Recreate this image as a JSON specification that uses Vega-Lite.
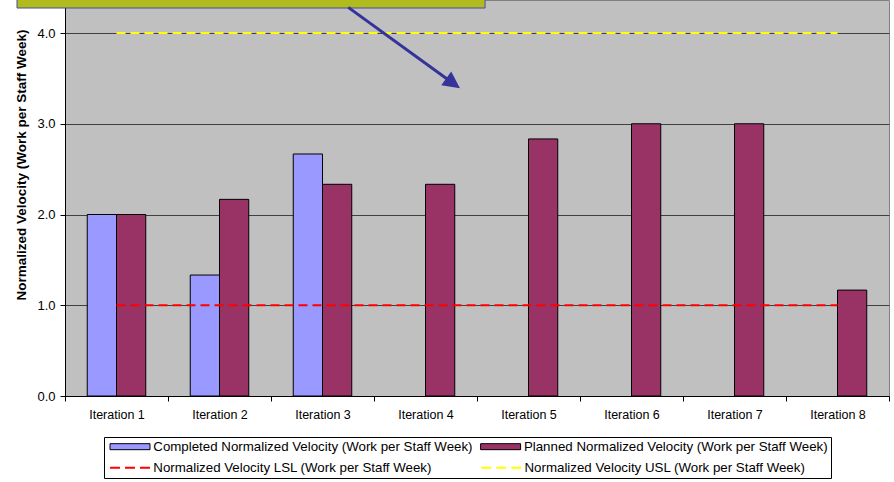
{
  "$schema": "https://vega.github.io/schema/vega-lite/v6.json",
  "width": 824,
  "height": 396,
  "autosize": {"type": "none"},
  "padding": {"left": 65, "top": 0, "right": 5, "bottom": 86},
  "background": "white",
  "config": {
    "view": {"fill": "#C0C0C0", "stroke": "#808080", "strokeWidth": 1},
    "font": "Liberation Sans"
  },
  "datasets": {
    "bars": [
      {"iteration": "Iteration 1", "series": "Completed Normalized Velocity (Work per Staff Week)", "value": 2.0},
      {"iteration": "Iteration 1", "series": "Planned Normalized Velocity (Work per Staff Week)", "value": 2.0},
      {"iteration": "Iteration 2", "series": "Completed Normalized Velocity (Work per Staff Week)", "value": 1.333},
      {"iteration": "Iteration 2", "series": "Planned Normalized Velocity (Work per Staff Week)", "value": 2.167},
      {"iteration": "Iteration 3", "series": "Completed Normalized Velocity (Work per Staff Week)", "value": 2.667},
      {"iteration": "Iteration 3", "series": "Planned Normalized Velocity (Work per Staff Week)", "value": 2.333},
      {"iteration": "Iteration 4", "series": "Planned Normalized Velocity (Work per Staff Week)", "value": 2.333},
      {"iteration": "Iteration 5", "series": "Planned Normalized Velocity (Work per Staff Week)", "value": 2.833},
      {"iteration": "Iteration 6", "series": "Planned Normalized Velocity (Work per Staff Week)", "value": 3.0},
      {"iteration": "Iteration 7", "series": "Planned Normalized Velocity (Work per Staff Week)", "value": 3.0},
      {"iteration": "Iteration 8", "series": "Planned Normalized Velocity (Work per Staff Week)", "value": 1.167}
    ],
    "limits": [
      {"iteration": "Iteration 1", "series": "Normalized Velocity LSL (Work per Staff Week)", "value": 1.0},
      {"iteration": "Iteration 2", "series": "Normalized Velocity LSL (Work per Staff Week)", "value": 1.0},
      {"iteration": "Iteration 3", "series": "Normalized Velocity LSL (Work per Staff Week)", "value": 1.0},
      {"iteration": "Iteration 4", "series": "Normalized Velocity LSL (Work per Staff Week)", "value": 1.0},
      {"iteration": "Iteration 5", "series": "Normalized Velocity LSL (Work per Staff Week)", "value": 1.0},
      {"iteration": "Iteration 6", "series": "Normalized Velocity LSL (Work per Staff Week)", "value": 1.0},
      {"iteration": "Iteration 7", "series": "Normalized Velocity LSL (Work per Staff Week)", "value": 1.0},
      {"iteration": "Iteration 8", "series": "Normalized Velocity LSL (Work per Staff Week)", "value": 1.0},
      {"iteration": "Iteration 1", "series": "Normalized Velocity USL (Work per Staff Week)", "value": 4.0},
      {"iteration": "Iteration 2", "series": "Normalized Velocity USL (Work per Staff Week)", "value": 4.0},
      {"iteration": "Iteration 3", "series": "Normalized Velocity USL (Work per Staff Week)", "value": 4.0},
      {"iteration": "Iteration 4", "series": "Normalized Velocity USL (Work per Staff Week)", "value": 4.0},
      {"iteration": "Iteration 5", "series": "Normalized Velocity USL (Work per Staff Week)", "value": 4.0},
      {"iteration": "Iteration 6", "series": "Normalized Velocity USL (Work per Staff Week)", "value": 4.0},
      {"iteration": "Iteration 7", "series": "Normalized Velocity USL (Work per Staff Week)", "value": 4.0},
      {"iteration": "Iteration 8", "series": "Normalized Velocity USL (Work per Staff Week)", "value": 4.0}
    ],
    "callout": [{"x1": -0.466, "x2": 4.078, "value": 4.2755, "value2": 4.8}],
    "arrow": [{"x1": 2.75, "value": 4.283, "x2": 3.74, "value2": 3.468}],
    "arrowhead": [{"x": 3.768, "value": 3.446}]
  },
  "layer": [
    {
      "data": {"name": "bars"},
      "mark": {"type": "bar", "stroke": "black", "strokeWidth": 1},
      "encoding": {
        "x": {
          "field": "iteration", "type": "nominal", "sort": null,
          "scale": {"paddingInner": 0, "paddingOuter": 0},
          "axis": {
            "title": null, "tickBand": "extent", "tickSize": 5, "tickColor": "black",
            "domainColor": "black", "labelAngle": 0, "labelFontSize": 12.5,
            "labelColor": "black", "labelPadding": 7, "labelFont": "Liberation Sans", "grid": false
          }
        },
        "xOffset": {
          "field": "series", "type": "nominal",
          "scale": {
            "domain": ["Completed Normalized Velocity (Work per Staff Week)", "Planned Normalized Velocity (Work per Staff Week)"],
            "paddingInner": 0, "paddingOuter": 0.76
          }
        },
        "y": {
          "field": "value", "type": "quantitative",
          "scale": {"domain": [0, 4.364], "nice": false, "zero": true},
          "axis": {
            "values": [0, 1, 2, 3, 4], "format": ".1f",
            "title": "Normalized Velocity (Work per Staff Week)",
            "grid": true, "gridColor": "#404040", "gridWidth": 1,
            "domainColor": "black", "tickColor": "black", "tickSize": 5,
            "labelPadding": 5, "labelFontSize": 13, "labelColor": "black", "labelFont": "Liberation Sans",
            "titleFont": "Liberation Sans", "titleFontSize": 13.5, "titleFontWeight": "bold", "titleColor": "black",
            "titleX": -37, "titleY": 164.5
          }
        },
        "fill": {
          "field": "series", "type": "nominal",
          "scale": {
            "domain": [
              "Completed Normalized Velocity (Work per Staff Week)",
              "Planned Normalized Velocity (Work per Staff Week)",
              "Normalized Velocity LSL (Work per Staff Week)",
              "Normalized Velocity USL (Work per Staff Week)"
            ],
            "range": ["#9999FF", "#993366", "white", "white"]
          },
          "legend": {
            "orient": "none", "legendX": 39, "legendY": 437, "title": null,
            "direction": "horizontal",
            "columns": 2, "gridAlign": "each", "columnPadding": 4.6, "rowPadding": 7.7,
            "padding": 3, "strokeColor": "black", "fillColor": "white",
            "labelFont": "Liberation Sans", "labelFontSize": 13.3, "labelColor": "black", "labelLimit": 1000,
            "labelExpr": "indexof(datum.label, 'SL (') >= 0 ? ' ' : datum.label",
            "symbolType": "M-4,-0.6H4V0.6H-4Z", "symbolStrokeColor": "black", "symbolStrokeWidth": 1,
            "symbolSize": 100, "symbolOffset": 16.35, "labelOffset": 16.65, "symbolOpacity": 1
          }
        }
      }
    },
    {
      "data": {"name": "limits"},
      "mark": {"type": "line", "strokeDash": [9, 5], "strokeWidth": 2},
      "encoding": {
        "x": {"field": "iteration", "type": "nominal", "sort": null, "scale": {"paddingInner": 0, "paddingOuter": 0}, "axis": null},
        "y": {"field": "value", "type": "quantitative", "scale": {"domain": [0, 4.364], "nice": false, "zero": true}},
        "stroke": {
          "field": "series", "type": "nominal",
          "scale": {
            "domain": ["Normalized Velocity LSL (Work per Staff Week)", "Normalized Velocity USL (Work per Staff Week)"],
            "range": ["#FF0000", "#FFFF00"]
          },
          "legend": {
            "orient": "none", "legendX": 41, "legendY": 460, "title": null,
            "direction": "horizontal",
            "columns": 2, "gridAlign": "each", "columnPadding": 45.2,
            "padding": 1, "fillColor": "white",
            "labelFont": "Liberation Sans", "labelFontSize": 13.3, "labelColor": "black", "labelLimit": 1000,
            "symbolType": "M-4,0H4", "symbolDash": [10, 5], "symbolStrokeWidth": 2,
            "symbolSize": 100, "symbolOffset": 16.35, "labelOffset": 16.65, "symbolOpacity": 1
          }
        }
      }
    },
    {
      "data": {"name": "callout"},
      "mark": {"type": "rect", "fill": "#B0BC1E", "stroke": "#4B4BA8", "strokeWidth": 1},
      "encoding": {
        "x": {"field": "x1", "type": "quantitative", "scale": {"domain": [0, 8], "nice": false, "zero": false}, "axis": null},
        "x2": {"field": "x2"},
        "y": {"field": "value", "type": "quantitative", "scale": {"domain": [0, 4.364], "nice": false, "zero": true}},
        "y2": {"field": "value2"}
      }
    },
    {
      "data": {"name": "arrow"},
      "mark": {"type": "rule", "color": "#333399", "strokeWidth": 3},
      "encoding": {
        "x": {"field": "x1", "type": "quantitative", "scale": {"domain": [0, 8], "nice": false, "zero": false}, "axis": null},
        "x2": {"field": "x2"},
        "y": {"field": "value", "type": "quantitative", "scale": {"domain": [0, 4.364], "nice": false, "zero": true}},
        "y2": {"field": "value2"}
      }
    },
    {
      "data": {"name": "arrowhead"},
      "mark": {"type": "point", "shape": "M1,0L-1,-1L-1,1Z", "filled": true, "color": "#333399", "opacity": 1, "size": 289, "angle": 36, "strokeWidth": 0},
      "encoding": {
        "x": {"field": "x", "type": "quantitative", "scale": {"domain": [0, 8], "nice": false, "zero": false}, "axis": null},
        "y": {"field": "value", "type": "quantitative", "scale": {"domain": [0, 4.364], "nice": false, "zero": true}}
      }
    }
  ],
  "resolve": {"scale": {"x": "independent"}}
}
